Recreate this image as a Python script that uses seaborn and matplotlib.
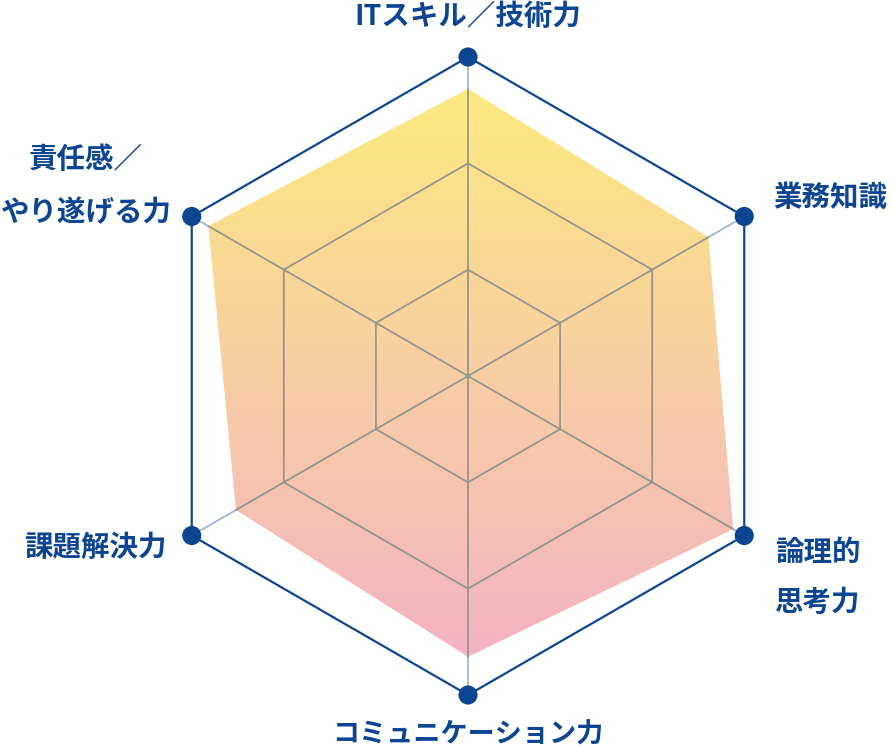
import numpy as np
import pandas as pd
import matplotlib
matplotlib.use("Agg")
import matplotlib.pyplot as plt
import seaborn as sns
from matplotlib.patches import Polygon

# data
categories = ["ITスキル／技術力", "業務知識", "論理的\n思考力", "コミュニケーション力", "課題解決力", "責任感／\nやり遂げる力"]
scores = [0.90, 0.87, 0.96, 0.88, 0.84, 0.94]
grid_levels = [1 / 3, 2 / 3]

sns.set_theme(style="white")
plt.rcParams["font.family"] = ["Noto Sans CJK JP", "DejaVu Sans"]

navy = "#0c4592"
spoke_blue = "#9fb5d2"
grid_gray = "#929890"

fig = plt.figure(figsize=(8.93, 7.5), dpi=100)
ax = fig.add_axes([0, 0, 1, 1])
ax.set_xlim(0, 893)
ax.set_ylim(750, 0)
ax.axis("off")

cx, cy, R = 468, 376, 319
angles = np.deg2rad([90, 30, -30, -90, -150, 150])


def to_xy(r):
    r = np.asarray(r)
    return cx + r * R * np.cos(angles), cy - r * R * np.sin(angles)


# spokes (light blue, full length)
ox, oy = to_xy(np.ones(6))
for x, y in zip(ox, oy):
    ax.plot([cx, x], [cy, y], color=spoke_blue, lw=1.3, zorder=1)

# gradient fill clipped to data polygon
dx, dy = to_xy(scores)
poly = Polygon(np.column_stack([dx, dy]), closed=True, facecolor="none", edgecolor="none")
ax.add_patch(poly)
top = np.array([253, 234, 128]) / 255
bottom = np.array([244, 178, 196]) / 255
t = np.linspace(0, 1, 256)[:, None]
grad = (top * (1 - t) + bottom * t)[:, None, :]
y0, y1 = dy.min(), dy.max()
im = ax.imshow(grad, extent=[0, 893, y1, y0], aspect="auto", zorder=2, interpolation="bilinear")
im.set_clip_path(poly)
ax.set_xlim(0, 893)
ax.set_ylim(750, 0)

# grid inside the fill
for lv in grid_levels:
    gx, gy = to_xy(np.full(6, lv))
    ax.plot(np.append(gx, gx[0]), np.append(gy, gy[0]), color=grid_gray, lw=1.3, zorder=3)
for x, y in zip(dx, dy):
    ax.plot([cx, x], [cy, y], color=grid_gray, lw=1.3, zorder=3)

# outer hexagon + vertex dots
outer = pd.DataFrame({"x": np.append(ox, ox[0]), "y": np.append(oy, oy[0])})
sns.lineplot(data=outer, x="x", y="y", sort=False, estimator=None, color=navy, lw=1.6, ax=ax, zorder=4)
sns.scatterplot(x=ox, y=oy, color=navy, s=190, edgecolor="none", ax=ax, zorder=5)

# labels
fs = 20.5
lab = dict(color=navy, fontsize=fs, fontweight="bold")
ax.text(468, 17, categories[0], ha="center", va="center", **lab)
ax.text(773, 198, categories[1], ha="left", va="center", **lab)
l2 = categories[2].split("\n")
ax.text(775, 553, l2[0], ha="left", va="center", **lab)
ax.text(775, 603, l2[1], ha="left", va="center", **lab)
ax.text(468, 735, categories[3], ha="center", va="center", fontsize=19.5, color=navy, fontweight="bold")
ax.text(167, 548, categories[4], ha="right", va="center", **lab)
l5 = categories[5].split("\n")
ax.text(86, 160, l5[0], ha="center", va="center", **lab)
ax.text(86, 213, l5[1], ha="center", va="center", **lab)

fig.savefig("out.png", dpi=100)
